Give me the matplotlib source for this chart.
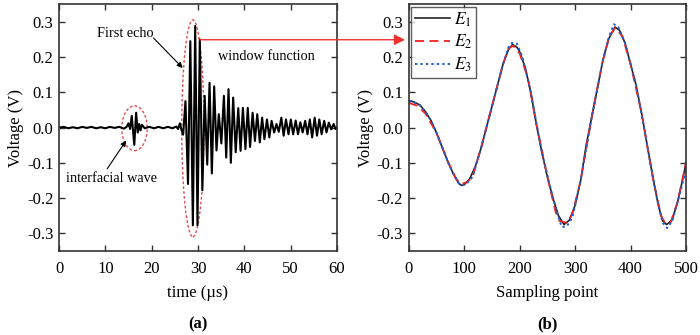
import matplotlib
matplotlib.use("Agg")
import matplotlib.pyplot as plt
from matplotlib.patches import Ellipse, ConnectionPatch

plt.rcParams['font.family'] = ['Liberation Serif', 'DejaVu Serif']
plt.rcParams['mathtext.fontset'] = 'stix'

# ---------------- data: panel (a) waveform (extremes) -----
wave_t = [0.0, 1.0, 2.0, 3.0, 4.0, 5.0, 6.0, 7.0, 8.0, 9.0, 10.0, 11.0, 12.0,
          13.0, 14.0, 14.6, 15.0, 15.35, 15.7, 16.25, 16.65, 17.0, 17.3, 17.6,
          17.9, 18.5, 19.5, 20.5, 21.5, 22.5, 23.5, 24.5, 25.3, 25.7, 26.1,
          26.4, 26.8,
          27.3, 27.85, 28.35, 28.9, 29.4, 29.9, 30.4, 30.95, 31.45, 32.0,
          32.5, 33.0, 33.5, 34.0, 34.5, 35.05, 35.6, 36.1, 36.6, 37.1, 37.6,
          38.15, 38.7, 39.2, 39.7, 40.25, 40.75, 41.25, 41.8, 42.3, 42.8,
          43.35, 43.85, 44.35, 44.9, 45.4, 45.9, 46.45, 46.95, 47.45, 48.0,
          48.5, 49.0, 49.55, 50.05, 50.55, 51.1, 51.6, 52.1, 52.6, 53.15,
          53.65, 54.15, 54.65, 55.2, 55.7, 56.2, 56.7, 57.25, 57.75, 58.25,
          58.75, 59.3, 59.7, 60.0]
wave_v = [0.0, 0.002, -0.002, 0.001, -0.002, 0.002, -0.001, 0.002, -0.002,
          0.001, -0.002, 0.002, -0.001, 0.002, -0.003, 0.002, 0.012, -0.004,
          0.033, -0.049, 0.042, -0.014, 0.01, -0.008, 0.008, -0.002, 0.002,
          -0.002, 0.002, -0.002, 0.002, -0.002, 0.003, -0.004, 0.012,
          -0.005, -0.02,
          0.075, -0.16, 0.245, -0.277, 0.288, -0.277, 0.25, -0.178, 0.09,
          -0.105, 0.127, -0.13, 0.117, -0.065, 0.038, -0.045, 0.09, -0.085,
          0.109, -0.1, 0.085, -0.07, 0.055, -0.066, 0.056, -0.061, 0.056,
          -0.055, 0.042, -0.038, 0.038, -0.042, 0.028, -0.033, 0.023,
          -0.028, 0.019, -0.014, 0.01, -0.012, 0.028, -0.023, 0.023, -0.019,
          0.023, -0.019, 0.02, -0.019, 0.015, -0.014, 0.019, -0.019, 0.023,
          -0.028, 0.028, -0.023, 0.023, -0.019, 0.019, -0.014, 0.014, -0.005,
          0.01, -0.004, 0.0]

# ---------------- data: panel (b) three windowed curves --------------------
e1_x = [0, 10, 20, 30, 40, 50, 60, 70, 80, 90, 95, 100, 110, 120, 130, 140,
        150, 160, 170, 180, 187, 195, 200, 210, 220, 230, 240, 250, 260, 270,
        280, 290, 300, 310, 320, 330, 340, 350, 360, 372, 380, 390, 400, 410,
        420, 430, 440, 450, 458, 465, 475, 485, 495, 500]
e1_y = [0.077, 0.072, 0.064, 0.045, 0.02, -0.015, -0.055, -0.095, -0.13,
        -0.158, -0.164, -0.162, -0.145, -0.11, -0.06, 0.0, 0.06, 0.12, 0.18,
        0.222, 0.235, 0.228, 0.215, 0.17, 0.1, 0.01, -0.07, -0.14, -0.2,
        -0.25, -0.275, -0.262, -0.22, -0.15, -0.05, 0.03, 0.11, 0.19, 0.25,
        0.285, 0.276, 0.24, 0.18, 0.12, 0.04, -0.05, -0.14, -0.22, -0.265,
        -0.275, -0.262, -0.21, -0.14, -0.10]

e2_x = [0, 15, 30, 50, 70, 85, 95, 105, 115, 130, 150, 170, 180, 188, 200,
        215, 230, 250, 265, 272, 285, 295, 310, 330, 350, 362, 372, 385, 400,
        420, 440, 455, 462, 472, 485, 500]
e2_y = [0.07, 0.062, 0.04, -0.015, -0.095, -0.145, -0.16, -0.155, -0.14,
        -0.06, 0.06, 0.18, 0.225, 0.232, 0.21, 0.14, 0.01, -0.14, -0.24,
        -0.265, -0.27, -0.245, -0.15, 0.03, 0.19, 0.26, 0.282, 0.26, 0.18,
        0.04, -0.14, -0.25, -0.27, -0.27, -0.21, -0.1]

e3_x = [0, 10, 20, 30, 40, 50, 60, 70, 80, 90, 97, 105, 115, 130, 150, 170,
        180, 186, 195, 205, 220, 240, 260, 270, 276, 285, 295, 310, 330, 350,
        362, 370, 378, 390, 410, 430, 450, 458, 466, 475, 485, 500]
e3_y = [0.075, 0.071, 0.063, 0.045, 0.02, -0.015, -0.055, -0.095, -0.13,
        -0.158, -0.163, -0.158, -0.14, -0.06, 0.06, 0.18, 0.228, 0.24, 0.238,
        0.2, 0.1, -0.07, -0.2, -0.255, -0.282, -0.28, -0.255, -0.15, 0.03,
        0.19, 0.262, 0.293, 0.285, 0.24, 0.12, -0.05, -0.22, -0.27, -0.285,
        -0.265, -0.21, -0.12]

# ---------------- figure ----------------
fig = plt.figure(figsize=(7.0, 3.35), dpi=100)
ax1 = fig.add_axes([0.0843, 0.2507, 0.397, 0.737])
ax2 = fig.add_axes([0.584, 0.2507, 0.396, 0.737])

frame_col = '#333333'
for ax in (ax1, ax2):
    ax.set_ylim(-0.35, 0.35)
    ax.set_yticks([-0.3, -0.2, -0.1, 0.0, 0.1, 0.2, 0.3])
    ax.set_yticklabels(['-0.3', '-0.2', '-0.1', '0.0', '0.1', '0.2', '0.3'])
    ax.tick_params(direction='in', top=True, right=True, length=4,
                   width=1.0, labelsize=12, color=frame_col, pad=4)
    ax.tick_params(axis='x', pad=7)
    for s in ax.spines.values():
        s.set_linewidth(1.2)
        s.set_color(frame_col)
    ax.set_ylabel('Voltage (V)', fontsize=12, labelpad=2)

# panel (a)
ax1.plot(wave_t, wave_v, color='black', lw=1.5)
ax1.set_xlim(0, 60)
ax1.set_xticks([0, 10, 20, 30, 40, 50, 60])
ax1.set_xlabel('time (\u00b5s)', fontsize=12, labelpad=6)

ax1.add_patch(Ellipse((16.3, -0.002), 5.5, 0.127, fill=False,
                      edgecolor='#e05050', ls=(0, (2, 1.5)), lw=1.0))
ax1.add_patch(Ellipse((28.9, -0.002), 4.8, 0.615, fill=False,
                      edgecolor='#e05050', ls=(0, (2, 1.5)), lw=1.0))

ax1.text(14.2, 0.267, 'First echo', fontsize=10.3, ha='center',
         va='center')
ax1.annotate('', xy=(26.7, 0.169), xytext=(20.4, 0.254),
             arrowprops=dict(arrowstyle='-|>', color='black', lw=0.8,
                             mutation_scale=8, shrinkA=0, shrinkB=0))
ax1.text(44.8, 0.202, 'window function', fontsize=10.3, ha='center',
         va='center')
ax1.text(11.3, -0.143, 'interfacial wave', fontsize=10.3, ha='center',
         va='center')
ax1.annotate('', xy=(14.5, -0.037), xytext=(10.4, -0.117),
             arrowprops=dict(arrowstyle='-|>', color='black', lw=0.8,
                             mutation_scale=8, shrinkA=0, shrinkB=0))

# horizontal red arrow from panel (a) to panel (b)
start = (30.4, 0.249)
fig.canvas.draw()
sy = fig.transFigure.inverted().transform(ax1.transData.transform(start))[1]
con = ConnectionPatch(xyA=start, coordsA=ax1.transData,
                      xyB=(405 / 700, sy), coordsB=fig.transFigure,
                      arrowstyle='-|>', color='#ee3030', lw=1.0,
                      mutation_scale=16, shrinkA=0, shrinkB=0)
fig.add_artist(con)

# panel (b)
ax2.plot(e1_x, e1_y, color='#222222', lw=1.2, label='$E_1$')
ax2.plot(e2_x, e2_y, color='#ee2222', lw=1.3, ls=(0, (5, 3)),
         label='$E_2$')
ax2.plot(e3_x, e3_y, color='#1f5fd0', lw=1.4, ls=(0, (1.2, 1.6)),
         label='$E_3$')
ax2.set_xlim(0, 500)
ax2.set_xticks([0, 100, 200, 300, 400, 500])
ax2.set_xlabel('Sampling point', fontsize=12, labelpad=6)
leg = ax2.legend(loc='upper left', fontsize=12.5, frameon=True,
                 fancybox=False, edgecolor='#333333', handlelength=2.0,
                 borderpad=0.2, labelspacing=0.25, handletextpad=0.25,
                 borderaxespad=0.15)
leg.get_frame().set_linewidth(1.0)

fig.text(0.0843 + 0.397 / 2, 0.033, '(a)', fontsize=12, fontweight='bold',
         ha='center', va='center')
fig.text(0.584 + 0.396 / 2, 0.033, '(b)', fontsize=12, fontweight='bold',
         ha='center', va='center')

fig.savefig('out.png', dpi=100)
